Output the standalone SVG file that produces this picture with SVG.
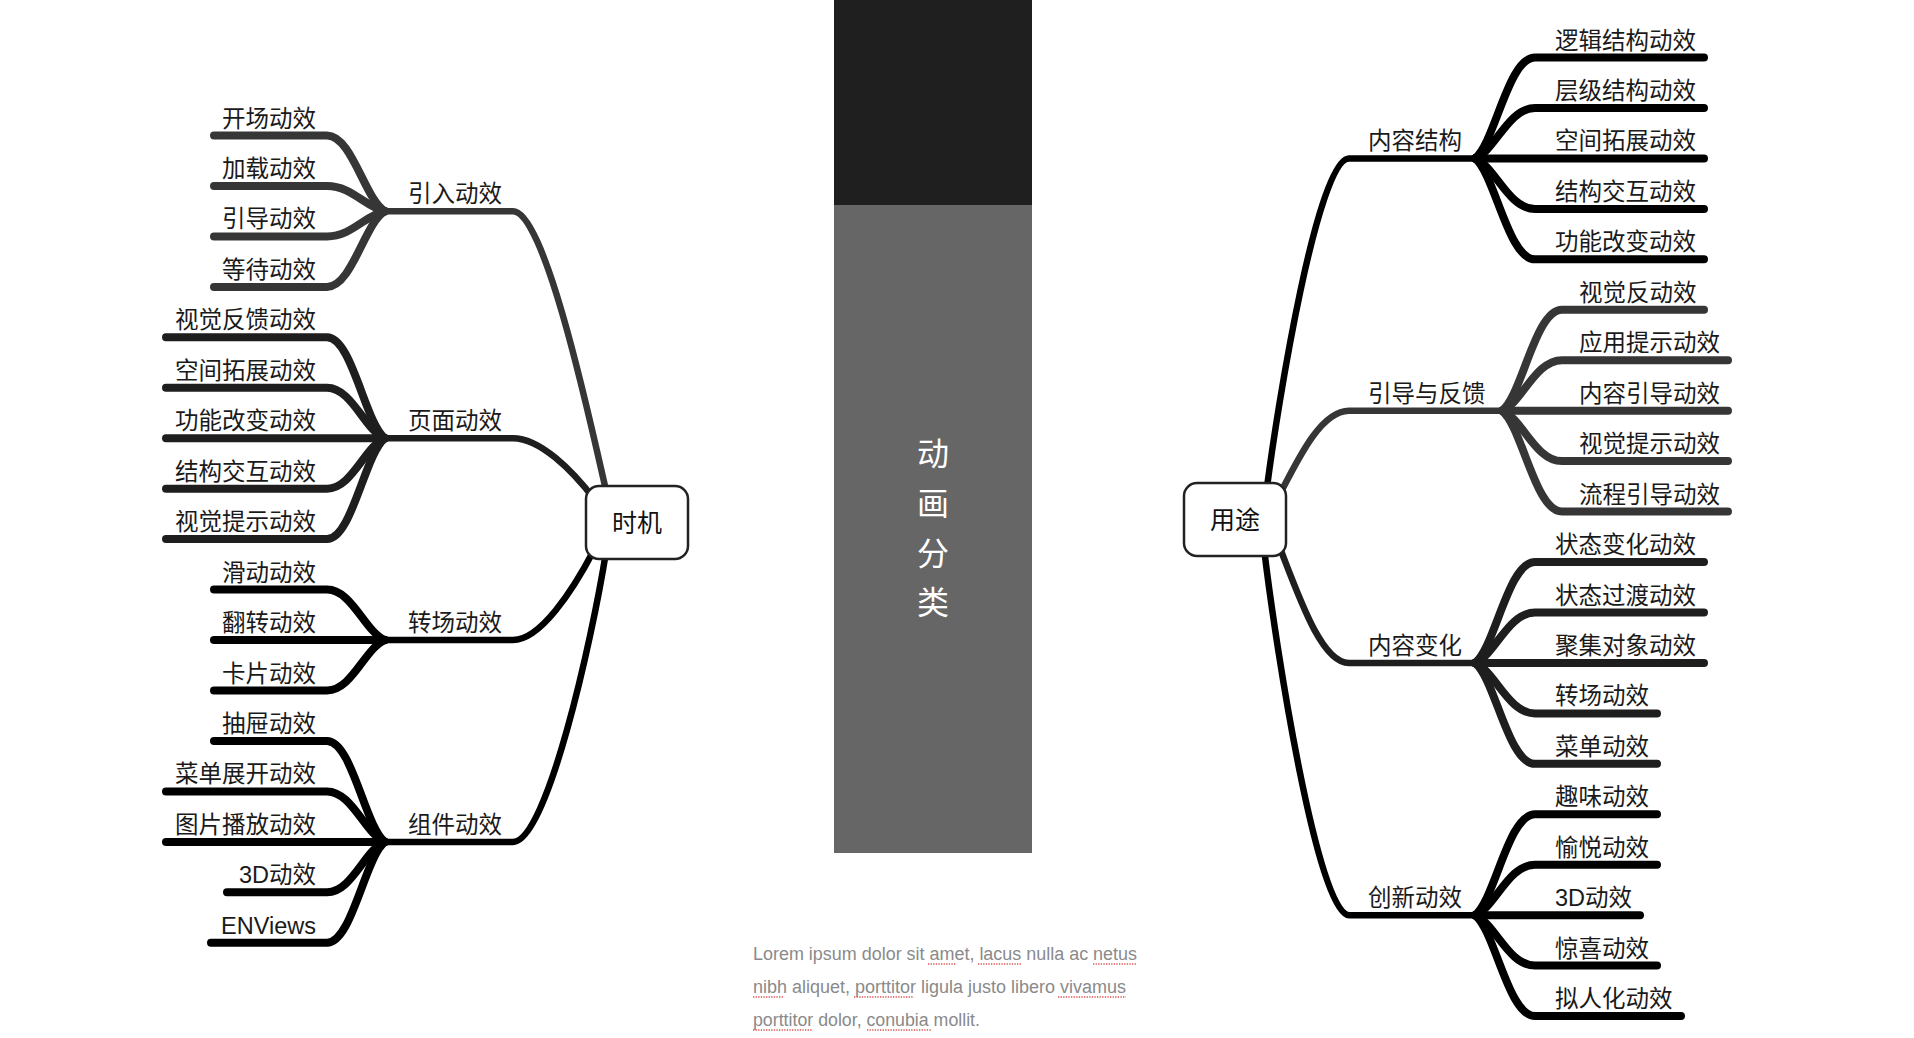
<svg xmlns="http://www.w3.org/2000/svg" width="1914" height="1038" viewBox="0 0 1914 1038">
<style>
.leaf{fill:none;stroke-width:8;stroke-linecap:round;stroke-linejoin:round}
.br{fill:none;stroke-width:6.5;stroke-linecap:round;stroke-linejoin:round}
.c1{stroke:#363636}.c2{stroke:#1e1e1e}.c3{stroke:#000}
.t{font-family:"Liberation Sans","Noto Sans CJK SC",sans-serif;font-size:23.5px;fill:#1a1a1a}
.tl{text-anchor:end}
.root rect{fill:#fff;stroke:#222;stroke-width:2.5}
.root text{font-family:"Noto Sans CJK SC",sans-serif;font-size:25px;fill:#111;text-anchor:middle}
.lorem{font-family:"Liberation Sans",Arial,sans-serif;font-size:18px;fill:#8a8a8a}
.sp{stroke:#d9534f;stroke-width:1.3;stroke-dasharray:1.3 1.3;fill:none}
</style>
<rect width="1914" height="1038" fill="#fff"/>
<g id="panel">
<rect x="834" y="0" width="198" height="205" fill="#1f1f1f"/>
<rect x="834" y="205" width="198" height="648" fill="#666"/>
<g font-family="Noto Sans CJK SC,sans-serif" font-size="32" fill="#fff" text-anchor="middle">
<text x="933" y="465">动</text>
<text x="933" y="515">画</text>
<text x="933" y="565">分</text>
<text x="933" y="614">类</text>
</g>
</g>
<g id="lorem">
<text class="lorem" x="753" y="960" textLength="384" lengthAdjust="spacingAndGlyphs">Lorem ipsum dolor sit amet, lacus nulla ac netus</text>
<text class="lorem" x="753" y="993" textLength="373" lengthAdjust="spacingAndGlyphs">nibh aliquet, porttitor ligula justo libero vivamus</text>
<text class="lorem" x="753" y="1026" textLength="227" lengthAdjust="spacingAndGlyphs">porttitor dolor, conubia mollit.</text>
<path class="sp" d="M928 964H956M978 964H1022M1093 964H1137M753 997H783M854 997H914M1058 997H1126M753 1030H812M867 1030H931"/>
</g>
<g id="connectors">
<path class="br c1" d="M385 211.2H513C545 211.2 590 420 607 495"/>
<path class="br c2" d="M385 438.2H513C540 438.2 572 470 595 500"/>
<path class="br c3" d="M385 640H513C540 640 572 592 594 550"/>
<path class="br c3" d="M385 841.9H513C547 841.9 592 640 606 552"/>
<g class="c1">
<path class="leaf" d="M214 135.5H327C352 135.5 365 200 385 211.2"/>
<path class="leaf" d="M214 186H327C352 186 365 207 385 211.2"/>
<path class="leaf" d="M214 236.4H327C352 236.4 365 215 385 211.2"/>
<path class="leaf" d="M214 286.9H327C352 286.9 365 222 385 211.2"/>
</g>
<g class="c2">
<path class="leaf" d="M166 337.3H327C352 337.3 365 423 385 438.2"/>
<path class="leaf" d="M166 387.8H327C352 387.8 365 431 385 438.2"/>
<path class="leaf" d="M166 438.2H385"/>
<path class="leaf" d="M166 488.7H327C352 488.7 365 446 385 438.2"/>
<path class="leaf" d="M166 539.1H327C352 539.1 365 453 385 438.2"/>
</g>
<g class="c3">
<path class="leaf" d="M214 589.6H327C352 589.6 365 632 385 640"/>
<path class="leaf" d="M214 640H385"/>
<path class="leaf" d="M214 690.5H327C352 690.5 365 648 385 640"/>
<path class="leaf" d="M214 740.9H327C352 740.9 365 827 385 841.9"/>
<path class="leaf" d="M166 791.4H327C352 791.4 365 834 385 841.9"/>
<path class="leaf" d="M166 841.9H385"/>
<path class="leaf" d="M227 892.3H327C352 892.3 365 849 385 841.9"/>
<path class="leaf" d="M211 942.7H327C352 942.7 365 857 385 841.9"/>
</g>
<path class="br c3" d="M1475 158.4H1349C1318 158.4 1278 400 1266 495"/>
<path class="br c1" d="M1502 410.7H1349C1322 410.7 1300 455 1281 492"/>
<path class="br c2" d="M1475 663H1349C1322 663 1300 600 1280 548"/>
<path class="br c3" d="M1475 915.2H1349C1318 915.2 1276 650 1264 548"/>
<g class="c3">
<path class="leaf" d="M1475 158.4C1495 143 1508 57.5 1535 57.5H1704"/>
<path class="leaf" d="M1475 158.4C1495 151 1508 108 1535 108H1704"/>
<path class="leaf" d="M1475 158.4H1704"/>
<path class="leaf" d="M1475 158.4C1495 166 1508 208.9 1535 208.9H1704"/>
<path class="leaf" d="M1475 158.4C1495 174 1508 259.3 1535 259.3H1704"/>
</g>
<g class="c1">
<path class="leaf" d="M1502 410.7C1522 396 1535 309.8 1562 309.8H1704"/>
<path class="leaf" d="M1502 410.7C1522 403 1535 360.2 1562 360.2H1728"/>
<path class="leaf" d="M1502 410.7H1728"/>
<path class="leaf" d="M1502 410.7C1522 418 1535 461.1 1562 461.1H1728"/>
<path class="leaf" d="M1502 410.7C1522 426 1535 511.6 1562 511.6H1728"/>
</g>
<g class="c2">
<path class="leaf" d="M1475 663C1495 648 1508 562 1535 562H1704"/>
<path class="leaf" d="M1475 663C1495 655 1508 612.5 1535 612.5H1704"/>
<path class="leaf" d="M1475 663H1704"/>
<path class="leaf" d="M1475 663C1495 671 1508 713.4 1535 713.4H1657"/>
<path class="leaf" d="M1475 663C1495 678 1508 763.8 1535 763.8H1657"/>
</g>
<g class="c3">
<path class="leaf" d="M1475 915.2C1495 900 1508 814.3 1535 814.3H1657"/>
<path class="leaf" d="M1475 915.2C1495 908 1508 864.7 1535 864.7H1657"/>
<path class="leaf" d="M1475 915.2H1640"/>
<path class="leaf" d="M1475 915.2C1495 923 1508 965.6 1535 965.6H1657"/>
<path class="leaf" d="M1475 915.2C1495 930 1508 1016 1535 1016H1681"/>
</g>
</g>
<g id="root-shiji" class="root"><rect x="586" y="486" width="102" height="73" rx="13"/><text x="637" y="531.5">时机</text></g>
<g id="root-yongtu" class="root"><rect x="1184" y="483" width="102" height="73" rx="13"/><text x="1235" y="528.5">用途</text></g>
<g id="l1-left">
<text id="n-yinru" class="t" x="408" y="202.2">引入动效</text>
<text id="n-yemian" class="t" x="408" y="429.2">页面动效</text>
<text id="n-zhuanchang" class="t" x="408" y="631">转场动效</text>
<text id="n-zujian" class="t" x="408" y="832.9">组件动效</text>
</g>
<g id="leaves-left" class="t tl">
<text x="316" y="126.5">开场动效</text>
<text x="316" y="177">加载动效</text>
<text x="316" y="227.4">引导动效</text>
<text x="316" y="277.9">等待动效</text>
<text x="316" y="328.3">视觉反馈动效</text>
<text x="316" y="378.8">空间拓展动效</text>
<text x="316" y="429.2">功能改变动效</text>
<text x="316" y="479.7">结构交互动效</text>
<text x="316" y="530.1">视觉提示动效</text>
<text x="316" y="580.6">滑动动效</text>
<text x="316" y="631">翻转动效</text>
<text x="316" y="681.5">卡片动效</text>
<text x="316" y="731.9">抽屉动效</text>
<text x="316" y="782.4">菜单展开动效</text>
<text x="316" y="832.9">图片播放动效</text>
<text x="316" y="883.3">3D动效</text>
<text x="316" y="933.7">ENViews</text>
</g>
<g id="l1-right">
<text id="n-neirongjiegou" class="t" x="1368" y="149.4">内容结构</text>
<text id="n-yindaofankui" class="t" x="1368" y="401.7">引导与反馈</text>
<text id="n-neirongbianhua" class="t" x="1368" y="654">内容变化</text>
<text id="n-chuangxin" class="t" x="1368" y="906.2">创新动效</text>
</g>
<g id="leaves-right" class="t">
<text x="1555" y="48.5">逻辑结构动效</text>
<text x="1555" y="99">层级结构动效</text>
<text x="1555" y="149.4">空间拓展动效</text>
<text x="1555" y="199.9">结构交互动效</text>
<text x="1555" y="250.3">功能改变动效</text>
<text x="1579" y="300.8">视觉反动效</text>
<text x="1579" y="351.2">应用提示动效</text>
<text x="1579" y="401.7">内容引导动效</text>
<text x="1579" y="452.1">视觉提示动效</text>
<text x="1579" y="502.6">流程引导动效</text>
<text x="1555" y="553">状态变化动效</text>
<text x="1555" y="603.5">状态过渡动效</text>
<text x="1555" y="654">聚集对象动效</text>
<text x="1555" y="704.4">转场动效</text>
<text x="1555" y="754.8">菜单动效</text>
<text x="1555" y="805.3">趣味动效</text>
<text x="1555" y="855.7">愉悦动效</text>
<text x="1555" y="906.2">3D动效</text>
<text x="1555" y="956.6">惊喜动效</text>
<text x="1555" y="1007">拟人化动效</text>
</g>
</svg>
